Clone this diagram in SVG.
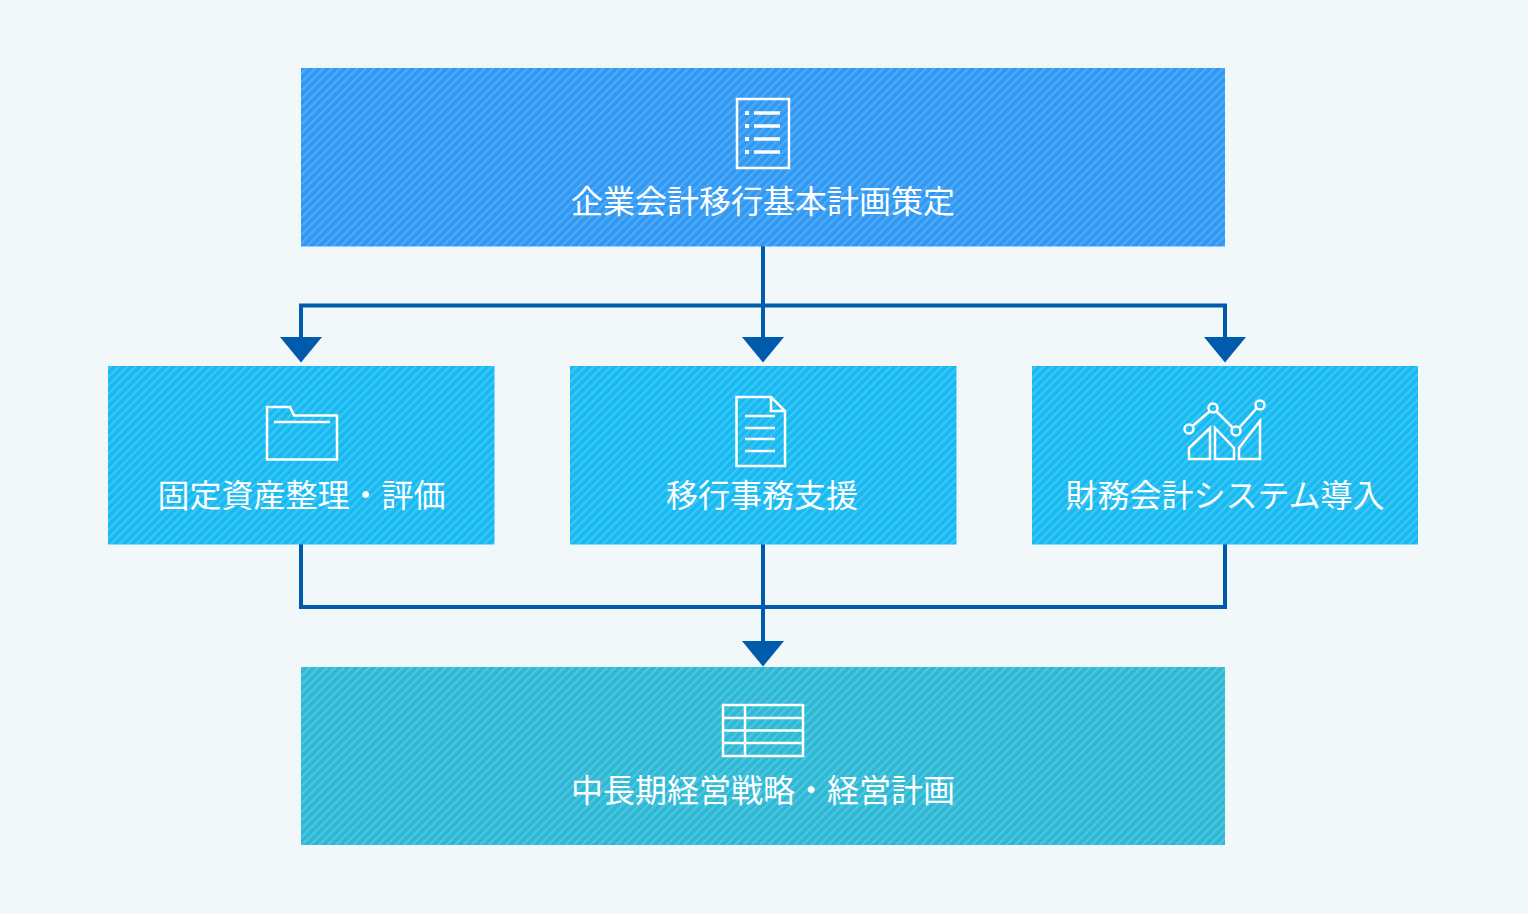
<svg xmlns="http://www.w3.org/2000/svg" width="1528" height="914" viewBox="0 0 1528 914">
<style>
text{font-family:"Noto Sans CJK JP","Noto Sans",sans-serif;font-size:32px;fill:#fff;text-anchor:middle;font-weight:400}
.i{fill:none;stroke:#fff;stroke-width:2.500}
.t{fill:none;stroke:#fff;stroke-width:3.500}
.c{fill:none;stroke:#005bac;stroke-width:4}
.a{fill:#005bac}
</style>
<defs>
<pattern id="p1" width="6" height="6" patternUnits="userSpaceOnUse" patternTransform="rotate(-45)"><rect width="6" height="6" fill="#3097f3"/><rect width="6" height="2.200" fill="#4fabf6"/></pattern>
<pattern id="p2" width="6" height="6" patternUnits="userSpaceOnUse" patternTransform="rotate(-45)"><rect width="6" height="6" fill="#17b9f1"/><rect width="6" height="2.200" fill="#3cc6f5"/></pattern>
<pattern id="p3" width="6" height="6" patternUnits="userSpaceOnUse" patternTransform="rotate(-45)"><rect width="6" height="6" fill="#2db8d5"/><rect width="6" height="2.200" fill="#4fc6de"/></pattern>
</defs>
<rect width="1528" height="914" fill="#f2f7fa"/>
<g id="connectors">
<path class="c" d="M763 246V338M301 338V305.500H1225V338"/>
<path class="a" d="M280 337H322L301 362.500ZM742 337H784L763 362.500ZM1204 337H1246L1225 362.500Z"/>
<path class="c" d="M301 544V607H1225V544M763 544V642"/>
<path class="a" d="M742 641H784L763 666.500Z"/>
</g>
<g id="n1"><rect x="301" y="68" width="924" height="178.500" fill="url(#p1)"/>
<rect class="i" x="737" y="99" width="52" height="69"/>
<path class="t" d="M754 113H780M754 126H780M754 139H780M754 152H780"/>
<path d="M745 111h4v4h-4zM745 124h4v4h-4zM745 137h4v4h-4zM745 150h4v4h-4z" fill="#fff"/>
<text x="763" y="213">企業会計移行基本計画策定</text></g>
<g id="n2"><rect x="108" y="366" width="386.500" height="178.500" fill="url(#p2)"/>
<path class="i" d="M267 407H290L294 415.500H337V459.500H267ZM274 422H330"/>
<text x="301.500" y="507">固定資産整理・評価</text></g>
<g id="n3"><rect x="570" y="366" width="386.500" height="178.500" fill="url(#p2)"/>
<path class="i" d="M736.500 397H771L785 411V466H736.500ZM771 397V411H785M745 416H775M745 428H775M745 439H775M745 451H775"/>
<text x="762" y="507">移行事務支援</text></g>
<g id="n4"><rect x="1032" y="366" width="386" height="178.500" fill="url(#p2)"/>
<circle class="i" cx="1189" cy="429" r="4.500"/><circle class="i" cx="1213" cy="408" r="4.500"/><circle class="i" cx="1236" cy="431" r="4.500"/><circle class="i" cx="1260" cy="405" r="4.500"/>
<path class="i" d="M1192.500 426L1210 411M1216 411L1233 428M1239 428L1257 408M1189 448L1210 428V459H1189ZM1215 428L1234 448V459H1215ZM1239 448L1260 421V459H1239Z"/>
<text x="1225" y="507">財務会計システム導入</text></g>
<g id="n5"><rect x="301" y="667" width="924" height="178" fill="url(#p3)"/>
<rect class="i" x="723" y="705" width="80" height="51"/>
<path class="i" d="M723 718H803M723 730.500H803M723 743H803M745 705V756"/>
<text x="763" y="802">中長期経営戦略・経営計画</text></g>
</svg>
